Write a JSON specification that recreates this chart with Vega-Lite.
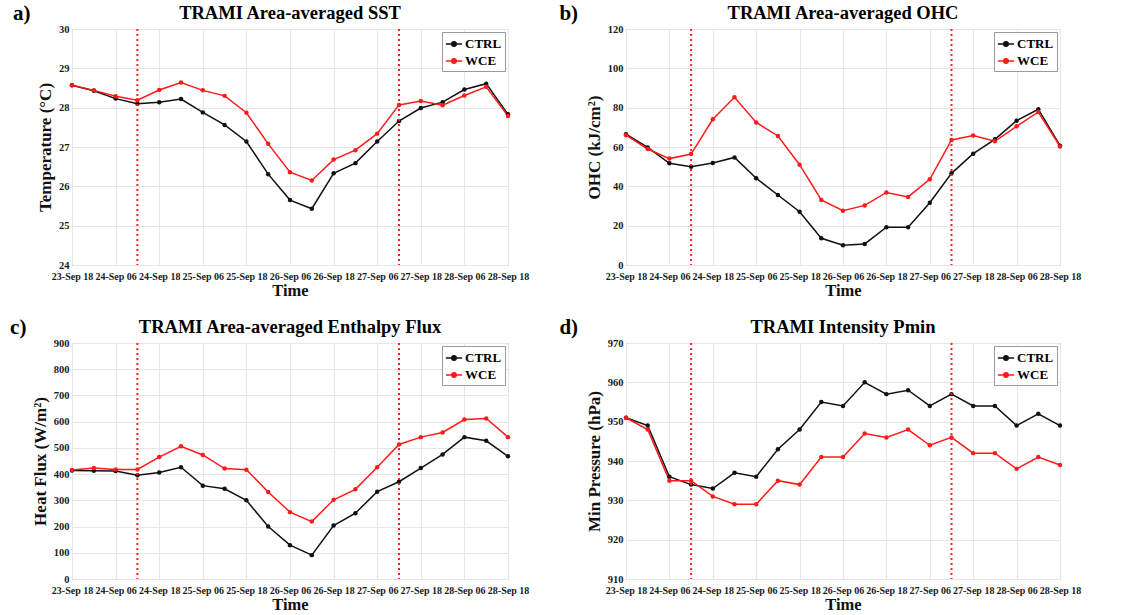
{
  "$schema": "https://vega.github.io/schema/vega-lite/v6.json",
  "background": "white",
  "padding": {"left": 10, "top": 3, "right": 5, "bottom": 2},
  "datasets": {
    "sst": [
      {"t": "2018-09-23T18:00:00Z", "CTRL": 28.57, "WCE": 28.57},
      {"t": "2018-09-24T00:00:00Z", "CTRL": 28.43, "WCE": 28.44},
      {"t": "2018-09-24T06:00:00Z", "CTRL": 28.23, "WCE": 28.29},
      {"t": "2018-09-24T12:00:00Z", "CTRL": 28.10, "WCE": 28.19},
      {"t": "2018-09-24T18:00:00Z", "CTRL": 28.14, "WCE": 28.45},
      {"t": "2018-09-25T00:00:00Z", "CTRL": 28.22, "WCE": 28.64},
      {"t": "2018-09-25T06:00:00Z", "CTRL": 27.88, "WCE": 28.44},
      {"t": "2018-09-25T12:00:00Z", "CTRL": 27.56, "WCE": 28.30},
      {"t": "2018-09-25T18:00:00Z", "CTRL": 27.14, "WCE": 27.87},
      {"t": "2018-09-26T00:00:00Z", "CTRL": 26.31, "WCE": 27.08},
      {"t": "2018-09-26T06:00:00Z", "CTRL": 25.65, "WCE": 26.36},
      {"t": "2018-09-26T12:00:00Z", "CTRL": 25.43, "WCE": 26.15},
      {"t": "2018-09-26T18:00:00Z", "CTRL": 26.33, "WCE": 26.68},
      {"t": "2018-09-27T00:00:00Z", "CTRL": 26.59, "WCE": 26.92},
      {"t": "2018-09-27T06:00:00Z", "CTRL": 27.14, "WCE": 27.34},
      {"t": "2018-09-27T12:00:00Z", "CTRL": 27.66, "WCE": 28.07},
      {"t": "2018-09-27T18:00:00Z", "CTRL": 27.99, "WCE": 28.17},
      {"t": "2018-09-28T00:00:00Z", "CTRL": 28.14, "WCE": 28.06},
      {"t": "2018-09-28T06:00:00Z", "CTRL": 28.46, "WCE": 28.31},
      {"t": "2018-09-28T12:00:00Z", "CTRL": 28.61, "WCE": 28.53},
      {"t": "2018-09-28T18:00:00Z", "CTRL": 27.83, "WCE": 27.79}
    ],
    "ohc": [
      {"t": "2018-09-23T18:00:00Z", "CTRL": 66.5, "WCE": 66.0},
      {"t": "2018-09-24T00:00:00Z", "CTRL": 59.8, "WCE": 59.0},
      {"t": "2018-09-24T06:00:00Z", "CTRL": 51.7, "WCE": 54.1},
      {"t": "2018-09-24T12:00:00Z", "CTRL": 50.0, "WCE": 56.4},
      {"t": "2018-09-24T18:00:00Z", "CTRL": 51.9, "WCE": 74.1},
      {"t": "2018-09-25T00:00:00Z", "CTRL": 54.7, "WCE": 85.3},
      {"t": "2018-09-25T06:00:00Z", "CTRL": 44.1, "WCE": 72.5},
      {"t": "2018-09-25T12:00:00Z", "CTRL": 35.6, "WCE": 65.6},
      {"t": "2018-09-25T18:00:00Z", "CTRL": 27.1, "WCE": 51.0},
      {"t": "2018-09-26T00:00:00Z", "CTRL": 13.6, "WCE": 33.1},
      {"t": "2018-09-26T06:00:00Z", "CTRL": 10.0, "WCE": 27.6},
      {"t": "2018-09-26T12:00:00Z", "CTRL": 10.7, "WCE": 30.3},
      {"t": "2018-09-26T18:00:00Z", "CTRL": 19.2, "WCE": 36.9},
      {"t": "2018-09-27T00:00:00Z", "CTRL": 19.2, "WCE": 34.6},
      {"t": "2018-09-27T06:00:00Z", "CTRL": 31.7, "WCE": 43.6},
      {"t": "2018-09-27T12:00:00Z", "CTRL": 46.6, "WCE": 63.6},
      {"t": "2018-09-27T18:00:00Z", "CTRL": 56.6, "WCE": 65.8},
      {"t": "2018-09-28T00:00:00Z", "CTRL": 63.9, "WCE": 62.9},
      {"t": "2018-09-28T06:00:00Z", "CTRL": 73.4, "WCE": 70.5},
      {"t": "2018-09-28T12:00:00Z", "CTRL": 79.2, "WCE": 77.8},
      {"t": "2018-09-28T18:00:00Z", "CTRL": 60.7, "WCE": 60.3}
    ],
    "flux": [
      {"t": "2018-09-23T18:00:00Z", "CTRL": 414, "WCE": 416},
      {"t": "2018-09-24T00:00:00Z", "CTRL": 413, "WCE": 423},
      {"t": "2018-09-24T06:00:00Z", "CTRL": 412, "WCE": 418},
      {"t": "2018-09-24T12:00:00Z", "CTRL": 396, "WCE": 418},
      {"t": "2018-09-24T18:00:00Z", "CTRL": 406, "WCE": 465},
      {"t": "2018-09-25T00:00:00Z", "CTRL": 426, "WCE": 506},
      {"t": "2018-09-25T06:00:00Z", "CTRL": 356, "WCE": 473},
      {"t": "2018-09-25T12:00:00Z", "CTRL": 344, "WCE": 421},
      {"t": "2018-09-25T18:00:00Z", "CTRL": 300, "WCE": 417},
      {"t": "2018-09-26T00:00:00Z", "CTRL": 200, "WCE": 332},
      {"t": "2018-09-26T06:00:00Z", "CTRL": 129, "WCE": 255},
      {"t": "2018-09-26T12:00:00Z", "CTRL": 91, "WCE": 219},
      {"t": "2018-09-26T18:00:00Z", "CTRL": 204, "WCE": 302},
      {"t": "2018-09-27T00:00:00Z", "CTRL": 251, "WCE": 342},
      {"t": "2018-09-27T06:00:00Z", "CTRL": 333, "WCE": 426},
      {"t": "2018-09-27T12:00:00Z", "CTRL": 371, "WCE": 513},
      {"t": "2018-09-27T18:00:00Z", "CTRL": 423, "WCE": 541},
      {"t": "2018-09-28T00:00:00Z", "CTRL": 475, "WCE": 559},
      {"t": "2018-09-28T06:00:00Z", "CTRL": 541, "WCE": 608},
      {"t": "2018-09-28T12:00:00Z", "CTRL": 527, "WCE": 612},
      {"t": "2018-09-28T18:00:00Z", "CTRL": 468, "WCE": 541}
    ],
    "pmin": [
      {"t": "2018-09-23T18:00:00Z", "CTRL": 951, "WCE": 951},
      {"t": "2018-09-24T00:00:00Z", "CTRL": 949, "WCE": 948},
      {"t": "2018-09-24T06:00:00Z", "CTRL": 936, "WCE": 935},
      {"t": "2018-09-24T12:00:00Z", "CTRL": 934, "WCE": 935},
      {"t": "2018-09-24T18:00:00Z", "CTRL": 933, "WCE": 931},
      {"t": "2018-09-25T00:00:00Z", "CTRL": 937, "WCE": 929},
      {"t": "2018-09-25T06:00:00Z", "CTRL": 936, "WCE": 929},
      {"t": "2018-09-25T12:00:00Z", "CTRL": 943, "WCE": 935},
      {"t": "2018-09-25T18:00:00Z", "CTRL": 948, "WCE": 934},
      {"t": "2018-09-26T00:00:00Z", "CTRL": 955, "WCE": 941},
      {"t": "2018-09-26T06:00:00Z", "CTRL": 954, "WCE": 941},
      {"t": "2018-09-26T12:00:00Z", "CTRL": 960, "WCE": 947},
      {"t": "2018-09-26T18:00:00Z", "CTRL": 957, "WCE": 946},
      {"t": "2018-09-27T00:00:00Z", "CTRL": 958, "WCE": 948},
      {"t": "2018-09-27T06:00:00Z", "CTRL": 954, "WCE": 944},
      {"t": "2018-09-27T12:00:00Z", "CTRL": 957, "WCE": 946},
      {"t": "2018-09-27T18:00:00Z", "CTRL": 954, "WCE": 942},
      {"t": "2018-09-28T00:00:00Z", "CTRL": 954, "WCE": 942},
      {"t": "2018-09-28T06:00:00Z", "CTRL": 949, "WCE": 938},
      {"t": "2018-09-28T12:00:00Z", "CTRL": 952, "WCE": 941},
      {"t": "2018-09-28T18:00:00Z", "CTRL": 949, "WCE": 939}
    ],
    "marks": [
      {"t": "2018-09-24T12:00:00Z"},
      {"t": "2018-09-27T12:00:00Z"}
    ]
  },
  "config": {
    "font": "Liberation Serif",
    "view": {"stroke": "#808080", "strokeWidth": 1},
    "axis": {
      "labelFont": "Liberation Serif",
      "labelFontWeight": "bold",
      "labelFontSize": 10.5,
      "labelColor": "#1a1a1a",
      "titleFont": "Liberation Serif",
      "titleFontWeight": "bold",
      "titleFontSize": 17,
      "titleColor": "#111111",
      "gridColor": "#e6e6e6",
      "gridWidth": 1,
      "domain": false,
      "ticks": false,
      "labelPadding": 3
    },
    "title": {
      "font": "Liberation Serif",
      "fontWeight": "bold",
      "fontSize": 18.5,
      "color": "#000000",
      "offset": 2
    },
    "legend": {
      "orient": "top-right",
      "offset": 3,
      "labelFont": "Liberation Serif",
      "labelFontWeight": "bold",
      "labelFontSize": 13,
      "labelColor": "#000000",
      "strokeColor": "#9a9a9a",
      "fillColor": "white",
      "padding": 3,
      "rowPadding": 1,
      "labelOffset": 2,
      "symbolType": "M-1,0H1M0.28,0A0.28,0.28,0,1,1,-0.28,0A0.28,0.28,0,1,1,0.28,0",
      "symbolSize": 260,
      "symbolStrokeWidth": 1.5
    }
  },
  "columns": 2,
  "spacing": {"row": 18, "column": 29},
  "resolve": {"scale": {"color": "independent"}, "legend": {"color": "independent"}},
  "concat": [
    {
      "title": {"text": "a)", "orient": "left", "angle": 0, "anchor": "end", "frame": "bounds", "fontSize": 21, "baseline": "top", "offset": -12},
      "resolve": {"scale": {"color": "independent"}, "legend": {"color": "independent"}},
      "vconcat": [
        {
          "title": "TRAMI Area-averaged SST",
          "width": 436,
          "height": 236,
          "layer": [
            {
              "data": {"name": "sst"},
              "transform": [{"fold": ["CTRL", "WCE"], "as": ["run", "value"]}],
              "mark": {"type": "line", "strokeWidth": 1.5, "point": {"filled": true, "size": 20}},
              "encoding": {
                "x": {"field": "t", "type": "temporal",
                  "scale": {"type": "utc", "domain": [1537725600000, 1538157600000]},
                  "axis": {"title": "Time", "titleFontSize": 16.5, "format": "%d-%b %H", "labelFontSize": 10, "labelPadding": 6, "labelAngle": 0, "labelOverlap": false, "labelFlush": false, "titlePadding": 1,
                    "values": [1537725600000, 1537768800000, 1537812000000, 1537855200000, 1537898400000, 1537941600000, 1537984800000, 1538028000000, 1538071200000, 1538114400000, 1538157600000]}},
                "y": {"field": "value", "type": "quantitative",
                  "scale": {"domain": [24, 30]},
                  "axis": {"title": "Temperature (°C)", "values": [24, 25, 26, 27, 28, 29, 30], "titlePadding": 4}},
                "color": {"field": "run", "type": "nominal",
                  "scale": {"domain": ["CTRL", "WCE"], "range": ["#111111", "#ff1a1a"]},
                  "legend": {"title": null}}
              }
            },
            {
              "data": {"name": "marks"},
              "mark": {"type": "rule", "color": "#ff2020", "strokeWidth": 2, "strokeDash": [2, 3]},
              "encoding": {"x": {"field": "t", "type": "temporal"}}
            }
          ]
        }
      ]
    },
    {
      "title": {"text": "b)", "orient": "left", "angle": 0, "anchor": "end", "frame": "bounds", "fontSize": 21, "baseline": "top", "offset": -12},
      "resolve": {"scale": {"color": "independent"}, "legend": {"color": "independent"}},
      "vconcat": [
        {
          "title": "TRAMI Area-averaged OHC",
          "width": 434,
          "height": 236,
          "layer": [
            {
              "data": {"name": "ohc"},
              "transform": [{"fold": ["CTRL", "WCE"], "as": ["run", "value"]}],
              "mark": {"type": "line", "strokeWidth": 1.5, "point": {"filled": true, "size": 20}},
              "encoding": {
                "x": {"field": "t", "type": "temporal",
                  "scale": {"type": "utc", "domain": [1537725600000, 1538157600000]},
                  "axis": {"title": "Time", "titleFontSize": 16.5, "format": "%d-%b %H", "labelFontSize": 10, "labelPadding": 6, "labelAngle": 0, "labelOverlap": false, "labelFlush": false, "titlePadding": 1,
                    "values": [1537725600000, 1537768800000, 1537812000000, 1537855200000, 1537898400000, 1537941600000, 1537984800000, 1538028000000, 1538071200000, 1538114400000, 1538157600000]}},
                "y": {"field": "value", "type": "quantitative",
                  "scale": {"domain": [0, 120]},
                  "axis": {"title": "OHC (kJ/cm²)", "values": [0, 20, 40, 60, 80, 100, 120], "titlePadding": 4}},
                "color": {"field": "run", "type": "nominal",
                  "scale": {"domain": ["CTRL", "WCE"], "range": ["#111111", "#ff1a1a"]},
                  "legend": {"title": null}}
              }
            },
            {
              "data": {"name": "marks"},
              "mark": {"type": "rule", "color": "#ff2020", "strokeWidth": 2, "strokeDash": [2, 3]},
              "encoding": {"x": {"field": "t", "type": "temporal"}}
            }
          ]
        }
      ]
    },
    {
      "title": {"text": "c)", "orient": "left", "angle": 0, "anchor": "end", "frame": "bounds", "fontSize": 21, "baseline": "top", "offset": -12},
      "resolve": {"scale": {"color": "independent"}, "legend": {"color": "independent"}},
      "vconcat": [
        {
          "title": "TRAMI Area-averaged Enthalpy Flux",
          "width": 436,
          "height": 236,
          "layer": [
            {
              "data": {"name": "flux"},
              "transform": [{"fold": ["CTRL", "WCE"], "as": ["run", "value"]}],
              "mark": {"type": "line", "strokeWidth": 1.5, "point": {"filled": true, "size": 20}},
              "encoding": {
                "x": {"field": "t", "type": "temporal",
                  "scale": {"type": "utc", "domain": [1537725600000, 1538157600000]},
                  "axis": {"title": "Time", "titleFontSize": 16.5, "format": "%d-%b %H", "labelFontSize": 10, "labelPadding": 6, "labelAngle": 0, "labelOverlap": false, "labelFlush": false, "titlePadding": 1,
                    "values": [1537725600000, 1537768800000, 1537812000000, 1537855200000, 1537898400000, 1537941600000, 1537984800000, 1538028000000, 1538071200000, 1538114400000, 1538157600000]}},
                "y": {"field": "value", "type": "quantitative",
                  "scale": {"domain": [0, 900]},
                  "axis": {"title": "Heat Flux (W/m²)", "values": [0, 100, 200, 300, 400, 500, 600, 700, 800, 900], "titlePadding": 4}},
                "color": {"field": "run", "type": "nominal",
                  "scale": {"domain": ["CTRL", "WCE"], "range": ["#111111", "#ff1a1a"]},
                  "legend": {"title": null}}
              }
            },
            {
              "data": {"name": "marks"},
              "mark": {"type": "rule", "color": "#ff2020", "strokeWidth": 2, "strokeDash": [2, 3]},
              "encoding": {"x": {"field": "t", "type": "temporal"}}
            }
          ]
        }
      ]
    },
    {
      "title": {"text": "d)", "orient": "left", "angle": 0, "anchor": "end", "frame": "bounds", "fontSize": 21, "baseline": "top", "offset": -12},
      "resolve": {"scale": {"color": "independent"}, "legend": {"color": "independent"}},
      "vconcat": [
        {
          "title": "TRAMI Intensity Pmin",
          "width": 434,
          "height": 236,
          "layer": [
            {
              "data": {"name": "pmin"},
              "transform": [{"fold": ["CTRL", "WCE"], "as": ["run", "value"]}],
              "mark": {"type": "line", "strokeWidth": 1.5, "point": {"filled": true, "size": 20}},
              "encoding": {
                "x": {"field": "t", "type": "temporal",
                  "scale": {"type": "utc", "domain": [1537725600000, 1538157600000]},
                  "axis": {"title": "Time", "titleFontSize": 16.5, "format": "%d-%b %H", "labelFontSize": 10, "labelPadding": 6, "labelAngle": 0, "labelOverlap": false, "labelFlush": false, "titlePadding": 1,
                    "values": [1537725600000, 1537768800000, 1537812000000, 1537855200000, 1537898400000, 1537941600000, 1537984800000, 1538028000000, 1538071200000, 1538114400000, 1538157600000]}},
                "y": {"field": "value", "type": "quantitative",
                  "scale": {"domain": [910, 970]},
                  "axis": {"title": "Min Pressure (hPa)", "values": [910, 920, 930, 940, 950, 960, 970], "titlePadding": 4}},
                "color": {"field": "run", "type": "nominal",
                  "scale": {"domain": ["CTRL", "WCE"], "range": ["#111111", "#ff1a1a"]},
                  "legend": {"title": null}}
              }
            },
            {
              "data": {"name": "marks"},
              "mark": {"type": "rule", "color": "#ff2020", "strokeWidth": 2, "strokeDash": [2, 3]},
              "encoding": {"x": {"field": "t", "type": "temporal"}}
            }
          ]
        }
      ]
    }
  ]
}
